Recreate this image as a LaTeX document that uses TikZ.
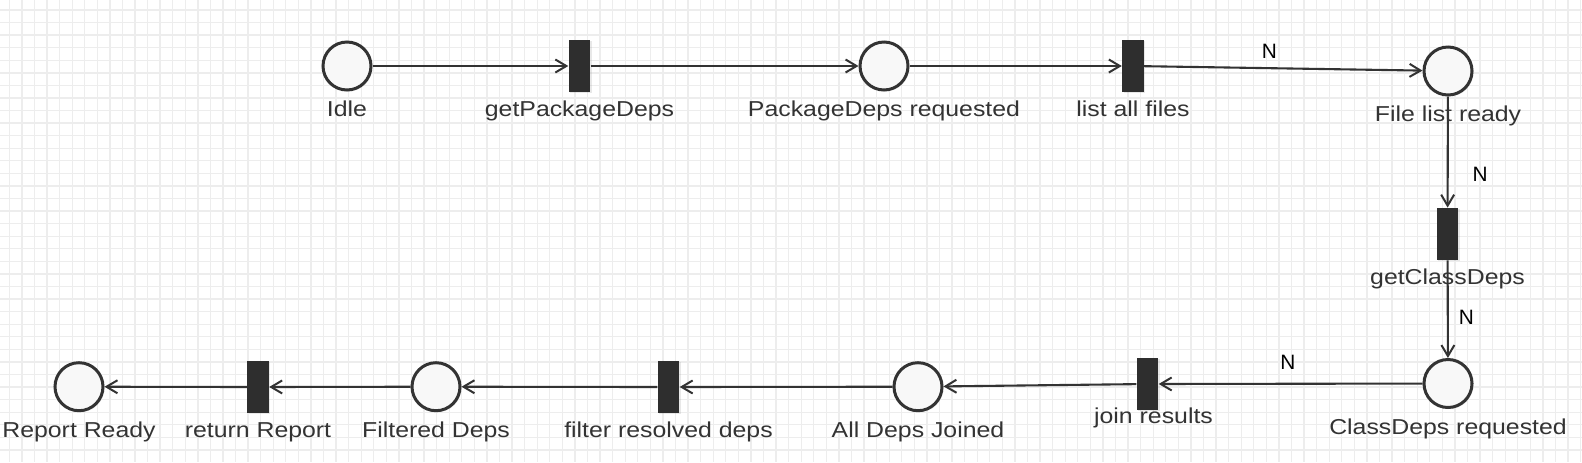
\documentclass[tikz,border=0pt]{standalone}
\usepackage{fontspec}
\setmainfont{Liberation Sans}
\usepackage{graphicx}
\usetikzlibrary{arrows.meta,shadows}
\definecolor{ink}{HTML}{333333}
\definecolor{gridc}{HTML}{EDEDED}
\definecolor{placefill}{HTML}{F8F8F8}
\definecolor{barfill}{HTML}{2E2E2E}
\newcommand\stretchlbl[1]{\scalebox{1.15}[1]{#1}}
\tikzset{
 place/.style={circle, draw=ink, line width=1.5pt, fill=placefill, minimum size=24pt, inner sep=0pt,
   drop shadow={shadow xshift=0.7pt, shadow yshift=-0.7pt, opacity=0.18}},
 trans/.style={rectangle, fill=barfill, draw=none, minimum width=10.8pt, minimum height=26pt, inner sep=0pt,
   drop shadow={shadow xshift=0.7pt, shadow yshift=-0.7pt, opacity=0.18}},
 lbl/.style={anchor=base, inner sep=0pt, text=ink, font=\fontsize{10.8}{12}\selectfont},
 nlbl/.style={inner sep=0pt, text=black, font=\fontsize{10.4}{12}\selectfont},
 arc/.style={draw=ink, line width=1.05pt, -{Straight Barb[length=5.5pt,width=6.5pt,line width=1pt]}},
 gridline/.style={draw=gridc, line width=0.65pt},
}
\begin{document}
\begin{tikzpicture}[x=0.5pt,y=-0.5pt]
\useasboundingbox (0,0) rectangle (1582,462);
\fill[white] (0,0) rectangle (1582,462);
\foreach \i in {0,...,125} \draw[gridline] ({9.3+\i*12.57},0) -- ({9.3+\i*12.57},462);
\foreach \j in {0,...,35} \draw[gridline] (0,{10+\j*12.57}) -- (1582,{10+\j*12.57});

% places and transitions
\node[place] (idle) at (347,66) {};
\node[trans] (gpd) at (579.5,66) {};
\node[place] (pdr) at (884,66) {};
\node[trans] (laf) at (1133,66) {};
\node[place] (flr) at (1448,71) {};
\node[trans] (gcd) at (1447.5,234) {};
\node[place] (cdr) at (1448,383.5) {};
\node[trans] (jr) at (1147.5,384) {};
\node[place] (adj) at (918,386.7) {};
\node[trans] (frd) at (668.5,387) {};
\node[place] (fd) at (436,386.7) {};
\node[trans] (rr) at (258,387) {};
\node[place] (rpr) at (79,386.7) {};

% arcs
\draw[arc] (idle) -- (gpd);
\draw[arc] (gpd) -- (pdr);
\draw[arc] (pdr) -- (laf);
\draw[arc] (laf) -- node[nlbl, pos=0.45, yshift=8.2pt] (n1) {N} (flr);
\draw[arc] (flr) -- node[nlbl, pos=0.70, xshift=16.25pt] (n2) {N} (gcd);
\draw[arc] (gcd) -- node[nlbl, pos=0.58, xshift=9.25pt] (n3) {N} (cdr);
\draw[arc] (cdr) -- node[nlbl, pos=0.51, yshift=10.75pt] (n4) {N} (jr);
\draw[arc] (jr) -- (adj);
\draw[arc] (adj) -- (frd);
\draw[arc] (frd) -- (fd);
\draw[arc] (fd) -- (rr);
\draw[arc] (rr) -- (rpr);

% labels
\node[lbl] (idle-t) at ([yshift=-25.25pt]idle.center) {\stretchlbl{Idle}};
\node[lbl] (gpd-t) at ([yshift=-25.25pt]gpd.center) {\stretchlbl{getPackageDeps}};
\node[lbl] (pdr-t) at ([yshift=-25.25pt]pdr.center) {\stretchlbl{PackageDeps requested}};
\node[lbl] (laf-t) at ([yshift=-25.25pt]laf.center) {\stretchlbl{list all files}};
\node[lbl] (flr-t) at ([yshift=-25.25pt]flr.center) {\stretchlbl{File list ready}};
\node[lbl] (gcd-t) at ([yshift=-25pt]gcd.center) {\stretchlbl{getClassDeps}};
\node[lbl] (cdr-t) at ([yshift=-25.35pt]cdr.center) {\stretchlbl{ClassDeps requested}};
\node[lbl] (jr-t) at ([xshift=3pt,yshift=-19.75pt]jr.center) {\stretchlbl{join results}};
\node[lbl] (adj-t) at ([yshift=-25.4pt]adj.center) {\stretchlbl{All Deps Joined}};
\node[lbl] (frd-t) at ([yshift=-25.4pt]frd.center) {\stretchlbl{filter resolved deps}};
\node[lbl] (fd-t) at ([yshift=-25.4pt]fd.center) {\stretchlbl{Filtered Deps}};
\node[lbl] (rr-t) at ([yshift=-25.4pt]rr.center) {\stretchlbl{return Report}};
\node[lbl] (rpr-t) at ([yshift=-25.4pt]rpr.center) {\stretchlbl{Report Ready}};
\end{tikzpicture}
\end{document}
